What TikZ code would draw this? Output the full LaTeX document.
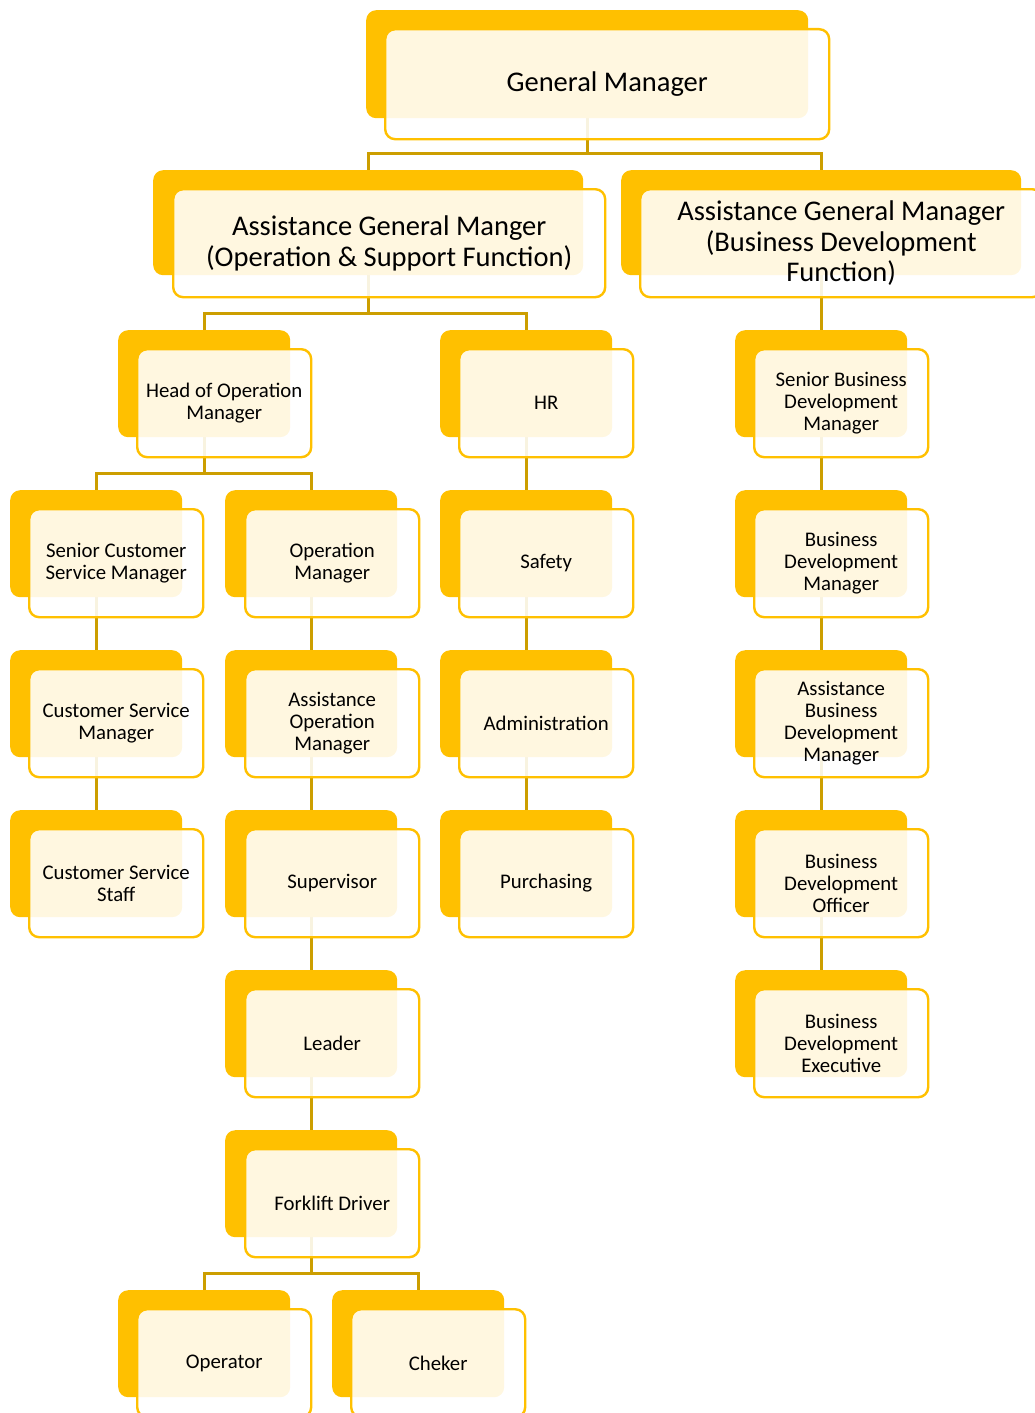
\documentclass[tikz,border=0pt]{standalone}
\usepackage{fontspec}
\setmainfont{Carlito}
\usetikzlibrary{positioning, backgrounds}

\definecolor{gold}{RGB}{255,192,0}
\definecolor{linkgold}{RGB}{204,158,0}

\begin{document}
\begin{tikzpicture}[x=1pt, y=-1pt,
  back/.style={rectangle, rounded corners=10pt, fill=gold, inner sep=0pt,
    minimum width=172pt, minimum height=107pt, anchor=north west},
  front/.style={rectangle, rounded corners=10pt, fill=white, fill opacity=0.88,
    text opacity=1, draw=gold, line width=2.4pt, inner sep=0pt, align=center,
    minimum width=174pt, minimum height=108pt, anchor=north west,
    font=\fontsize{20.8}{22}\selectfont},
  big/.style={font=\fontsize{28.5}{30.5}\selectfont},
  link/.style={draw=linkgold, line width=3pt}]
\useasboundingbox (0,0) rectangle (1034,1413);

% top level
\node [back, minimum width=442pt, minimum height=108pt] (gm) at (366,10) {};
\node [front, big, minimum width=444pt, minimum height=110pt] (gm-f) at ([shift={(18,18)}]gm.north west) {General Manager};
\node [back, minimum width=430pt, minimum height=105pt] (agml) at (153,170) {};
\node [front, big, minimum width=432pt, minimum height=108pt] (agml-f) at ([shift={(19,18)}]agml.north west) {Assistance General Manger\\(Operation \& Support Function)};
\node [back, minimum width=400pt, minimum height=105pt] (agmr) at (621,170) {};
\node [front, big, minimum width=402pt, minimum height=108pt] (agmr-f) at ([shift={(18,18)}]agmr.north west) {Assistance General Manager\\(Business Development\\Function)};

% operation & support
\node [back] (hom) at (118,330) {};
\node [front] (hom-f) at ([shift={(18,18)}]hom.north west) {Head of Operation\\Manager};
\node [back] (scsm) at (10,490) {};
\node [front] (scsm-f) at ([shift={(18,18)}]scsm.north west) {Senior Customer\\Service Manager};
\node [back] (csm) at (10,650) {};
\node [front] (csm-f) at ([shift={(18,18)}]csm.north west) {Customer Service\\Manager};
\node [back] (css) at (10,810) {};
\node [front] (css-f) at ([shift={(18,18)}]css.north west) {Customer Service\\Staff};
\node [back] (om) at (225,490) {};
\node [front] (om-f) at ([shift={(19,18)}]om.north west) {Operation\\Manager};
\node [back] (aom) at (225,650) {};
\node [front] (aom-f) at ([shift={(19,18)}]aom.north west) {Assistance\\Operation\\Manager};
\node [back] (sup) at (225,810) {};
\node [front] (sup-f) at ([shift={(19,18)}]sup.north west) {Supervisor};
\node [back] (lead) at (225,970) {};
\node [front] (lead-f) at ([shift={(19,18)}]lead.north west) {Leader};
\node [back] (fd) at (225,1130) {};
\node [front] (fd-f) at ([shift={(19,18)}]fd.north west) {Forklift Driver};
\node [back] (opr) at (118,1290) {};
\node [front] (opr-f) at ([shift={(18,18)}]opr.north west) {Operator};
\node [back] (chk) at (332,1290) {};
\node [front] (chk-f) at ([shift={(18,18)}]chk.north west) {Cheker};
\node [back] (hr) at (440,330) {};
\node [front] (hr-f) at ([shift={(18,18)}]hr.north west) {HR};
\node [back] (saf) at (440,490) {};
\node [front] (saf-f) at ([shift={(18,18)}]saf.north west) {Safety};
\node [back] (adm) at (440,650) {};
\node [front] (adm-f) at ([shift={(18,18)}]adm.north west) {Administration};
\node [back] (pur) at (440,810) {};
\node [front] (pur-f) at ([shift={(18,18)}]pur.north west) {Purchasing};

% business development
\node [back] (sbdm) at (735,330) {};
\node [front] (sbdm-f) at ([shift={(18,18)}]sbdm.north west) {Senior Business\\Development\\Manager};
\node [back] (bdm) at (735,490) {};
\node [front] (bdm-f) at ([shift={(18,18)}]bdm.north west) {Business\\Development\\Manager};
\node [back] (abdm) at (735,650) {};
\node [front] (abdm-f) at ([shift={(18,18)}]abdm.north west) {Assistance\\Business\\Development\\Manager};
\node [back] (bdo) at (735,810) {};
\node [front] (bdo-f) at ([shift={(18,18)}]bdo.north west) {Business\\Development\\Officer};
\node [back] (bde) at (735,970) {};
\node [front] (bde-f) at ([shift={(18,18)}]bde.north west) {Business\\Development\\Executive};

\begin{scope}[on background layer]
\draw [link] (gm.south) -- ++(0,35) -| (agml.north);
\draw [link] (gm.south) -- ++(0,35) -| (agmr.north);
\draw [link] (agml.south) -- ++(0,38) -| (hom.north);
\draw [link] (agml.south) -- ++(0,38) -| (hr.north);
\draw [link] (agmr) -- (sbdm);
\draw [link] (hom.south) -- ++(0,36) -| (scsm.north);
\draw [link] (hom.south) -- ++(0,36) -| (om.north);
\draw [link] (scsm) -- (csm) -- (css);
\draw [link] (om) -- (aom) -- (sup) -- (lead) -- (fd);
\draw [link] (hr) -- (saf) -- (adm) -- (pur);
\draw [link] (sbdm) -- (bdm) -- (abdm) -- (bdo) -- (bde);
\draw [link] (fd.south) -- ++(0,36) -| (opr.north);
\draw [link] (fd.south) -- ++(0,36) -| (chk.north);
\end{scope}
\end{tikzpicture}
\end{document}
